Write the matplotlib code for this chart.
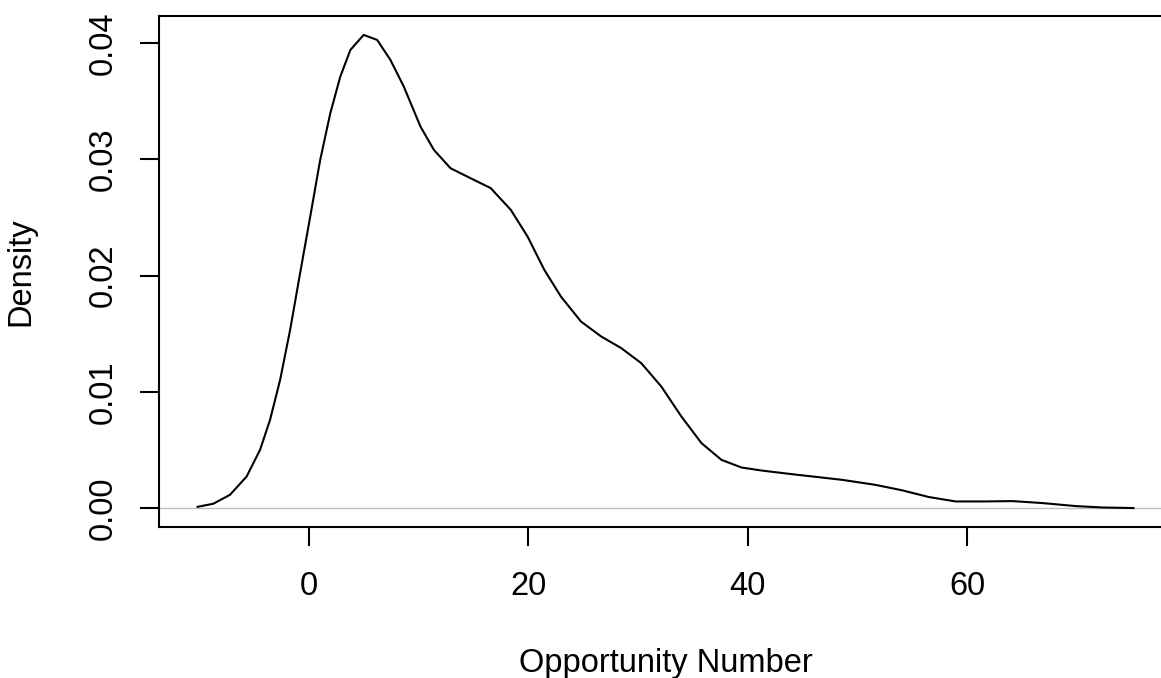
import numpy as np
import matplotlib.pyplot as plt

# density curve
opp_x = [-10.24, -8.72, -7.19, -5.67, -4.45, -3.54, -2.62, -1.71, -0.80, 0.12,
         1.03, 1.95, 2.86, 3.78, 4.99, 6.22, 7.43, 8.65, 10.17, 11.39, 12.91,
         14.74, 16.57, 18.40, 19.93, 21.45, 22.97, 24.80, 26.63, 28.46, 30.28,
         32.11, 33.94, 35.77, 37.59, 39.42, 41.25, 43.99, 48.58, 51.61, 54.05,
         56.49, 58.92, 61.66, 64.10, 66.85, 69.89, 72.33, 75.23]
density = [0.00009, 0.00037, 0.00114, 0.00272, 0.00501, 0.00759, 0.01103, 0.01533,
           0.02021, 0.02507, 0.02995, 0.03396, 0.03711, 0.03941, 0.04070, 0.04027,
           0.03855, 0.03625, 0.03281, 0.03081, 0.02923, 0.02837, 0.02752, 0.02565,
           0.02335, 0.02049, 0.01819, 0.01604, 0.01476, 0.01376, 0.01247, 0.01046,
           0.00788, 0.00559, 0.00415, 0.00349, 0.00323, 0.00292, 0.00243, 0.00200,
           0.00153, 0.00095, 0.00057, 0.00057, 0.00060, 0.00043, 0.00017, 0.00005,
           0.0]
x_ticks = [0, 20, 40, 60]
y_ticks = [0.00, 0.01, 0.02, 0.03, 0.04]

plt.rcParams['font.family'] = ['Liberation Sans', 'DejaVu Sans']
W, H = 1161, 678
fig = plt.figure(figsize=(W / 100, H / 100), dpi=100)
ax = fig.add_axes([159 / W, (H - 527) / H, (1172 - 159) / W, (527 - 16) / H])

ax.axhline(0, color='#BEBEBE', lw=1.0, zorder=1)
ax.plot(opp_x, density, color='black', lw=1.5, zorder=2,
        solid_joinstyle='round', solid_capstyle='butt')

# R style: data range padded by 4%
xr = max(opp_x) - min(opp_x)
ax.set_xlim(min(opp_x) - 0.04 * xr, max(opp_x) + 0.04 * xr)
ymax = max(density)
ax.set_ylim(-0.04 * ymax, ymax * 1.04)

for s in ax.spines.values():
    s.set_linewidth(1.5)
ax.set_xticks(x_ticks)
ax.set_xticklabels([str(t) for t in x_ticks])
ax.set_yticks(y_ticks)
ax.set_yticklabels([f'{t:.2f}' for t in y_ticks], rotation=90, va='center')
ax.tick_params(axis='both', length=14, width=1.5, labelsize=23.5)
ax.tick_params(axis='x', pad=18)
ax.tick_params(axis='y', pad=15)

fig.text((159 + 1172) / 2 / W, (H - 672) / H, 'Opportunity Number',
         ha='center', va='baseline', fontsize=23.5)
fig.text(36 / W, (H - 272) / H, 'Density', rotation=90,
         ha='right', va='center', fontsize=23.5)

fig.savefig('out.png', dpi=100)
